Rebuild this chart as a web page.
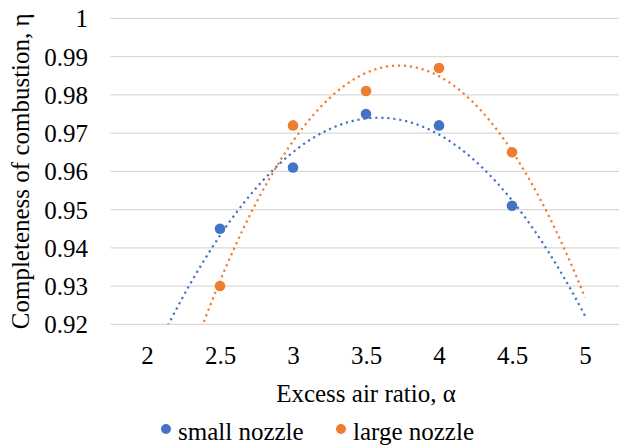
<!DOCTYPE html>
<html>
<head>
<meta charset="utf-8">
<script src="https://cdn.jsdelivr.net/npm/d3@7"></script>
<style>
	body { margin: 0; background: #fff; }
</style>
</head>
<body>
<div id="chart"></div>
<script>
// NOTE data
var alpha = [2.5, 3, 3.5, 4, 4.5];
var smallNozzle = [0.945, 0.961, 0.975, 0.972, 0.951];
var largeNozzle = [0.93, 0.972, 0.981, 0.987, 0.965];
var seriesNames = ['small nozzle', 'large nozzle'];
var seriesColors = ['#4472C4', '#ED7D31'];
var xTicks = [2, 2.5, 3, 3.5, 4, 4.5, 5];
var yTicks = [0.92, 0.93, 0.94, 0.95, 0.96, 0.97, 0.98, 0.99, 1];

var font = "'Liberation Serif', 'DejaVu Serif', serif";
var fontSize = 25;

var width = 619,
	height = 447;

var margin = { top: 18.3, bottom: 122.7, left: 110.5, right: -2.5 };

var svg = d3
	.select('#chart')
	.append('svg')
	.attr('width', width)
	.attr('height', height)
	.attr('font-family', font);

var x = d3
	.scaleLinear()
	.domain([1.75, 5.25])
	.range([margin.left, width - margin.right]);

var y = d3
	.scaleLinear()
	.domain([0.92, 1])
	.range([height - margin.bottom, margin.top]);

// least squares 2nd order polynomial (the excel trendline)
function polyFit(xs, ys) {
	var n = xs.length,
		s = [0, 0, 0, 0, 0],
		t = [0, 0, 0];
	for (var i = 0; i < n; i++) {
		for (var k = 0; k < 5; k++) s[k] += Math.pow(xs[i], k);
		for (var k = 0; k < 3; k++) t[k] += ys[i] * Math.pow(xs[i], k);
	}
	var m = [
		[s[0], s[1], s[2], t[0]],
		[s[1], s[2], s[3], t[1]],
		[s[2], s[3], s[4], t[2]]
	];
	for (var c = 0; c < 3; c++) {
		for (var r = c + 1; r < 3; r++) {
			var f = m[r][c] / m[c][c];
			for (var k = c; k < 4; k++) m[r][k] -= f * m[c][k];
		}
	}
	var coef = [0, 0, 0];
	for (var r = 2; r >= 0; r--) {
		var v = m[r][3];
		for (var k = r + 1; k < 3; k++) v -= m[r][k] * coef[k];
		coef[r] = v / m[r][r];
	}
	return function (v) {
		return coef[0] + coef[1] * v + coef[2] * v * v;
	};
}

svg
	.append('clipPath')
	.attr('id', 'plot')
	.append('rect')
	.attr('x', x(1.75))
	.attr('y', y(1) - 2)
	.attr('width', x(5.25) - x(1.75))
	.attr('height', y(0.92) - y(1) + 2);

// gridlines
svg
	.append('g')
	.selectAll('line')
	.data(yTicks)
	.enter()
	.append('line')
	.attr('x1', x(1.75))
	.attr('x2', width)
	.attr('y1', function (d) {
		return y(d);
	})
	.attr('y2', function (d) {
		return y(d);
	})
	.attr('stroke', '#d9d9d9')
	.attr('stroke-width', 1.3);

var y_axis = d3
	.axisLeft(y)
	.tickValues(yTicks)
	.tickSize(0)
	.tickPadding(0)
	.tickFormat(function (d) {
		return String(+d.toFixed(2));
	});

svg
	.append('g')
	.attr('class', 'y axis')
	.attr('transform', 'translate(88,0)')
	.call(y_axis)
	.attr('font-family', font)
	.attr('font-size', fontSize)
	.call(function (g) {
		g.select('.domain').remove();
	})
	.selectAll('text')
	.attr('dy', '0.34em')
	.attr('fill', '#000');

var x_axis = d3
	.axisBottom(x)
	.tickValues(xTicks)
	.tickSize(0)
	.tickPadding(0)
	.tickFormat(function (d) {
		return String(d);
	});

svg
	.append('g')
	.attr('class', 'x axis')
	.attr('transform', 'translate(0,' + 364 + ')')
	.call(x_axis)
	.attr('font-family', font)
	.attr('font-size', fontSize)
	.call(function (g) {
		g.select('.domain').remove();
	})
	.selectAll('text')
	.attr('dy', 0)
	.attr('y', 0)
	.attr('fill', '#000');

// trendlines
var all = [smallNozzle, largeNozzle];
var line = d3
	.line()
	.x(function (d) {
		return x(d[0]);
	})
	.y(function (d) {
		return y(d[1]);
	});

all.forEach(function (vals, i) {
	var f = polyFit(alpha, vals);
	var pts = d3.range(2, 5.0001, 0.01).map(function (v) {
		return [v, f(v)];
	});
	svg
		.append('path')
		.attr('d', line(pts))
		.attr('clip-path', 'url(#plot)')
		.attr('fill', 'none')
		.attr('stroke', seriesColors[i])
		.attr('stroke-width', 2.2)
		.attr('stroke-dasharray', '2.2,3.8');
});

// markers
all.forEach(function (vals, i) {
	svg
		.append('g')
		.selectAll('circle')
		.data(vals)
		.enter()
		.append('circle')
		.attr('cx', function (d, j) {
			return x(alpha[j]);
		})
		.attr('cy', function (d) {
			return y(d);
		})
		.attr('r', 5.3)
		.attr('fill', seriesColors[i]);
});

// axis titles
svg
	.append('text')
	.attr('x', (x(1.75) + x(5.25)) / 2)
	.attr('y', 401.5)
	.attr('text-anchor', 'middle')
	.attr('font-size', fontSize)
	.text('Excess air ratio, \u03b1');

svg
	.append('text')
	.attr('transform', 'translate(29,' + (y(1) + y(0.92)) / 2 + ') rotate(-90)')
	.attr('text-anchor', 'middle')
	.attr('font-size', fontSize)
	.text('Completeness of combustion, \u03b7');

// legend
var legendX = [166, 341];
var legend = svg
	.append('g')
	.selectAll('g')
	.data(seriesNames)
	.enter()
	.append('g')
	.attr('transform', function (d, i) {
		return 'translate(' + legendX[i] + ',0)';
	});

legend
	.append('circle')
	.attr('cx', 0)
	.attr('cy', 429)
	.attr('r', 5)
	.attr('fill', function (d, i) {
		return seriesColors[i];
	});

legend
	.append('text')
	.attr('x', 12)
	.attr('y', 440)
	.attr('font-size', fontSize)
	.text(function (d) {
		return d;
	});
</script>
</body>
</html>
